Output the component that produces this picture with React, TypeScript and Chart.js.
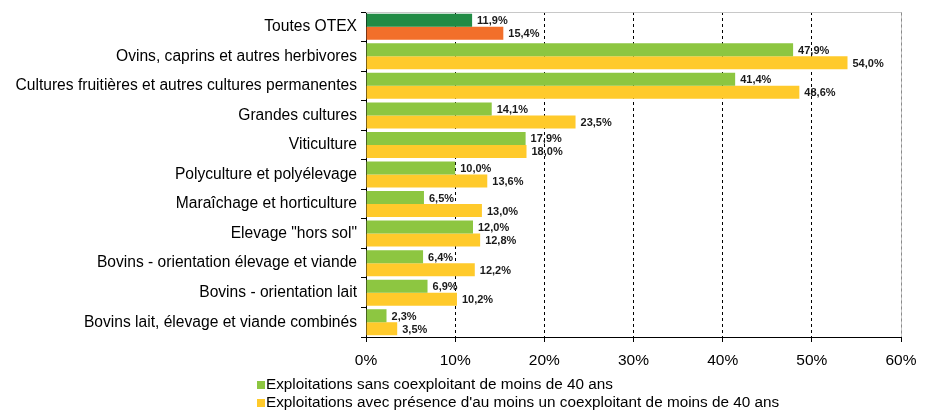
import React, { useEffect, useRef } from "react";
import { Chart, registerables } from "chart.js";

Chart.register(...registerables);

const categories = [
  "Toutes OTEX",
  "Ovins, caprins et autres herbivores",
  "Cultures fruitières et autres cultures permanentes",
  "Grandes cultures",
  "Viticulture",
  "Polyculture et polyélevage",
  "Maraîchage et horticulture",
  'Elevage "hors sol"',
  "Bovins - orientation élevage et viande",
  "Bovins - orientation lait",
  "Bovins lait, élevage et viande combinés",
];

const seriesNames = [
  "Exploitations sans coexploitant de moins de 40 ans",
  "Exploitations avec présence d'au moins un coexploitant de moins de 40 ans",
];

const sansValues = [11.9, 47.9, 41.4, 14.1, 17.9, 10.0, 6.5, 12.0, 6.4, 6.9, 2.3];
const avecValues = [15.4, 54.0, 48.6, 23.5, 18.0, 13.6, 13.0, 12.8, 12.2, 10.2, 3.5];

const xTicks = [0, 10, 20, 30, 40, 50, 60];

const GREEN = "#8DC641";
const YELLOW = "#FFCA2B";
const DARK_GREEN = "#228B45";
const ORANGE = "#F26F2A";
const FONT = "Arial, 'Liberation Sans', sans-serif";

const fmt = (v: number) => v.toFixed(1).replace(".", ",") + "%";

const labelsPlugin = {
  id: "barLabels",
  afterDatasetsDraw(chart: any) {
    const ctx = chart.ctx;
    ctx.save();
    ctx.font = `bold 11px ${FONT}`;
    ctx.fillStyle = "#1a1a1a";
    ctx.textAlign = "left";
    ctx.textBaseline = "middle";
    chart.data.datasets.forEach((ds: any, di: number) => {
      const meta = chart.getDatasetMeta(di);
      meta.data.forEach((bar: any, i: number) => {
        ctx.fillText(fmt(ds.data[i]), bar.x + 5, bar.y + 1);
      });
    });
    ctx.restore();
  },
};

const frameAndLegendPlugin = {
  id: "frameLegend",
  beforeDatasetsDraw(chart: any) {
    const { ctx, chartArea } = chart;
    const r = Math.round(chartArea.right) + 0.5;
    const t = Math.round(chartArea.top) + 0.5;
    ctx.save();
    ctx.lineWidth = 1;
    ctx.strokeStyle = "#c8c8c8";
    ctx.beginPath();
    ctx.moveTo(chartArea.left, t);
    ctx.lineTo(r, t);
    ctx.lineTo(r, chartArea.bottom);
    ctx.stroke();
    ctx.strokeStyle = "#8a8a8a";
    ctx.setLineDash([3, 3]);
    ctx.beginPath();
    ctx.moveTo(r, t);
    ctx.lineTo(r, chartArea.bottom);
    ctx.stroke();
    ctx.restore();
  },
  afterDraw(chart: any) {
    const { ctx } = chart;
    ctx.save();
    ctx.font = `15.3px ${FONT}`;
    ctx.textBaseline = "middle";
    ctx.textAlign = "left";
    const colors = [GREEN, YELLOW];
    const rowsY = [377, 395];
    seriesNames.forEach((name, i) => {
      const y = rowsY[i];
      ctx.fillStyle = colors[i];
      ctx.fillRect(249, y - 4, 8, 8);
      ctx.fillStyle = "#000";
      ctx.fillText(name, 258, y);
    });
    ctx.restore();
  },
};

export default function App() {
  const ref = useRef<HTMLCanvasElement>(null);
  useEffect(() => {
    if (!ref.current) return;
    const chart = new Chart(ref.current, {
      type: "bar",
      data: {
        labels: categories,
        datasets: [
          {
            label: seriesNames[0],
            data: sansValues,
            backgroundColor: sansValues.map((_, i) => (i === 0 ? DARK_GREEN : GREEN)),
            categoryPercentage: 0.88,
            barPercentage: 1,
          },
          {
            label: seriesNames[1],
            data: avecValues,
            backgroundColor: avecValues.map((_, i) => (i === 0 ? ORANGE : YELLOW)),
            categoryPercentage: 0.88,
            barPercentage: 1,
          },
        ],
      },
      options: {
        indexAxis: "y",
        animation: false,
        responsive: true,
        maintainAspectRatio: false,
        layout: { padding: { top: 4, right: 20, bottom: 44, left: 0 } },
        plugins: {
          legend: { display: false },
          tooltip: { enabled: false },
        },
        scales: {
          x: {
            min: 0,
            max: 60,
            afterBuildTicks: (scale: any) => {
              scale.ticks = xTicks.map((v) => ({ value: v }));
            },
            afterFit: (scale: any) => {
              scale.height = 30;
              scale.paddingRight = 0;
              scale.paddingLeft = 0;
            },
            ticks: {
              font: { family: FONT, size: 15.5 },
              color: "#000",
              padding: 9,
              callback: (v: any) => v + "%",
            },
            grid: {
              color: (c: any) =>
                c.index === 0 || c.index === xTicks.length - 1 ? "rgba(0,0,0,0)" : "#000",
              tickColor: "#000",
              tickLength: 5,
              lineWidth: 1,
            },
            border: { display: true, color: "#000", dash: [3, 3] },
          },
          y: {
            afterFit: (scale: any) => {
              scale.width = 358;
              scale.paddingTop = 0;
              scale.paddingBottom = 0;
            },
            ticks: {
              font: { family: FONT, size: 15.6 },
              color: "#000",
              padding: 4,
              autoSkip: false,
            },
            grid: {
              drawOnChartArea: false,
              drawTicks: true,
              tickLength: 5,
              tickColor: "#000",
              offset: true,
            },
            border: { display: true, color: "#000" },
          },
        },
      },
      plugins: [labelsPlugin, frameAndLegendPlugin],
    });
    return () => chart.destroy();
  }, []);
  return (
    <div style={{ position: "absolute", left: 8, top: 8, width: 913, height: 403 }}>
      <canvas ref={ref} />
    </div>
  );
}
